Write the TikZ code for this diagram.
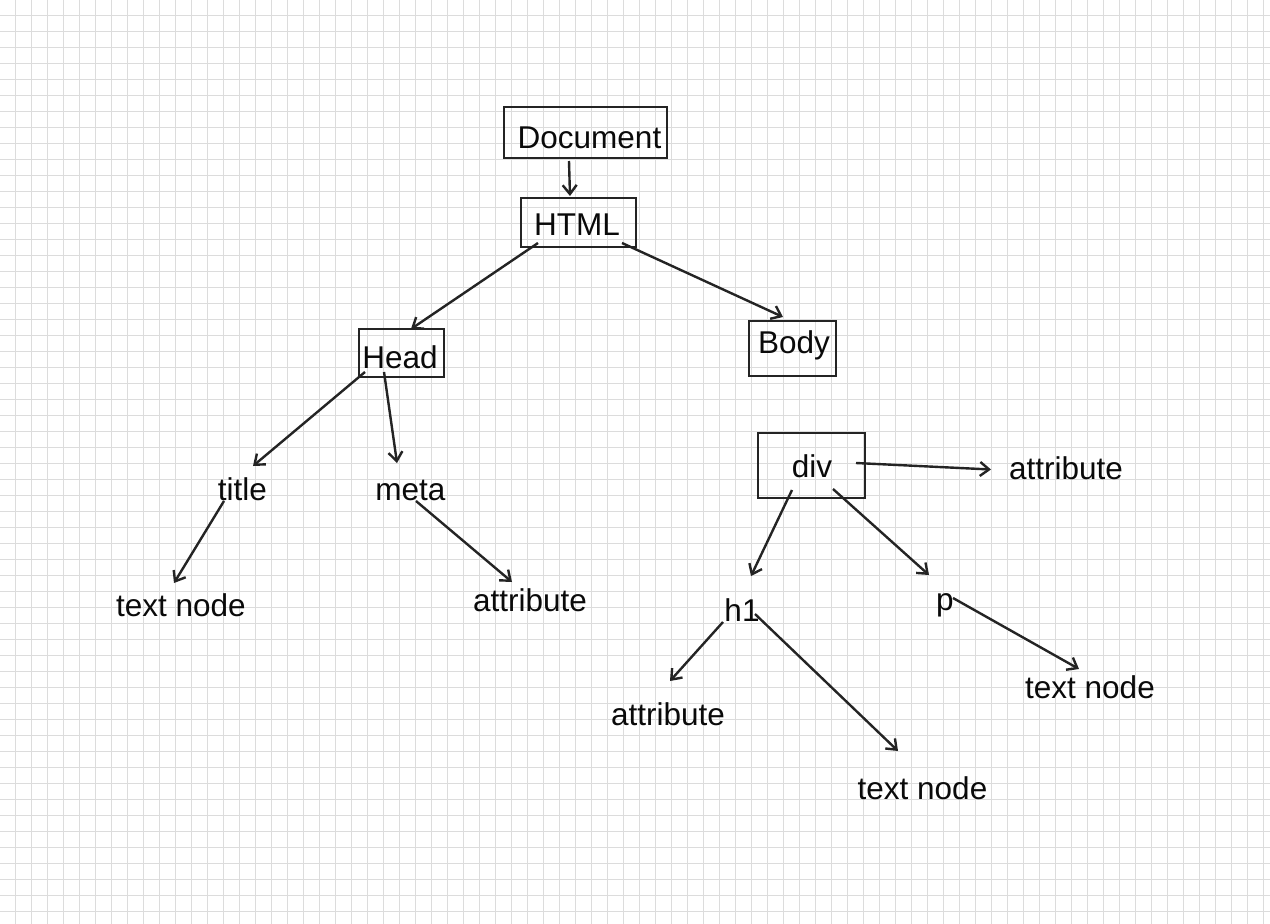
\documentclass[tikz,border=0pt]{standalone}
\usepackage{fontspec}
\setmainfont{Liberation Sans}
\usetikzlibrary{arrows.meta}
\definecolor{gridc}{RGB}{220,220,220}
\definecolor{ink}{RGB}{36,36,36}
\definecolor{txtc}{RGB}{10,10,10}
\begin{document}
\begin{tikzpicture}[x=1pt,y=-1pt,
  gridline/.style={draw=gridc, line width=1.9pt},
  box/.style={draw=ink, line width=2.5pt, rectangle, inner sep=0pt},
  lbl/.style={text=txtc, inner sep=0pt, anchor=base, font=\fontsize{31.5}{37}\selectfont},
  conn/.style={draw=ink, line width=2.4pt, -{Straight Barb[length=9pt,width=14pt]}}]
\useasboundingbox (0,0) rectangle (1270,924);
\fill[white] (0,0) rectangle (1270,924);
% grid
\foreach \i in {1,...,79} \draw[gridline] (16*\i-0.5,0) -- (16*\i-0.5,924);
\foreach \j in {1,...,57} \draw[gridline] (0,16*\j-0.5) -- (1270,16*\j-0.5);
% boxes
\node[box, minimum width=163pt, minimum height=51pt] (docbox) at (585.5,132.5) {};
\node[box, minimum width=115pt, minimum height=49pt] (htmlbox) at (578.5,222.5) {};
\node[box, minimum width=85pt, minimum height=48pt] (headbox) at (401.5,353) {};
\node[box, minimum width=87pt, minimum height=55pt] (bodybox) at (792.5,348.5) {};
\node[box, minimum width=107pt, minimum height=65pt] (divbox) at (811.5,465.5) {};
% labels
\node[lbl] (doc) at (589.5,148.5) {Document};
\node[lbl] (html) at (577,235) {HTML};
\node[lbl] (head) at (400,368.5) {Head};
\node[lbl] (body) at (794,353.5) {Body};
\node[lbl] (div) at (812,477.5) {div};
\node[lbl] (title) at (242.5,500) {title};
\node[lbl] (meta) at (410.5,500.5) {meta};
\node[lbl] (tnl) at (181,616.5) {text node};
\node[lbl] (attm) at (530,611.5) {attribute};
\node[lbl] (attr) at (1066,479.5) {attribute};
\node[lbl] (h1) at (742,621.5) {h1};
\node[lbl] (p) at (945,610) {p};
\node[lbl] (tnr) at (1090,698.5) {text node};
\node[lbl] (atth) at (668,725.5) {attribute};
\node[lbl] (tnb) at (922.5,799.5) {text node};
% connector end points
\coordinate (docS) at (569,161);   \coordinate (htmlN) at (570,196);
\coordinate (htmlSW) at (538,243); \coordinate (headN) at (411,329);
\coordinate (htmlSE) at (622,243); \coordinate (bodyN) at (783,317);
\coordinate (headSW) at (365,372); \coordinate (titleN) at (253,466);
\coordinate (headS) at (384,372);  \coordinate (metaN) at (397,463);
\coordinate (titleS) at (224,501); \coordinate (tnlN) at (174,583);
\coordinate (metaS) at (416,501);  \coordinate (attmN) at (512,582);
\coordinate (divE) at (856,463);   \coordinate (attrW) at (991,469.5);
\coordinate (divSW) at (792,490);  \coordinate (h1N) at (751,576);
\coordinate (divSE) at (833,489);  \coordinate (pN) at (929,575);
\coordinate (h1W) at (723,622);    \coordinate (atthN) at (670,681);
\coordinate (h1E) at (755,614);    \coordinate (tnbN) at (898,751);
\coordinate (pE) at (953,598);     \coordinate (tnrN) at (1079,669);
% connectors
\draw[conn] (docS) -- (htmlN);
\draw[conn] (htmlSW) -- (headN);
\draw[conn] (htmlSE) -- (bodyN);
\draw[conn] (headSW) -- (titleN);
\draw[conn] (headS) -- (metaN);
\draw[conn] (titleS) -- (tnlN);
\draw[conn] (metaS) -- (attmN);
\draw[conn] (divE) -- (attrW);
\draw[conn] (divSW) -- (h1N);
\draw[conn] (divSE) -- (pN);
\draw[conn] (h1W) -- (atthN);
\draw[conn] (h1E) -- (tnbN);
\draw[conn] (pE) -- (tnrN);
\end{tikzpicture}
\end{document}
